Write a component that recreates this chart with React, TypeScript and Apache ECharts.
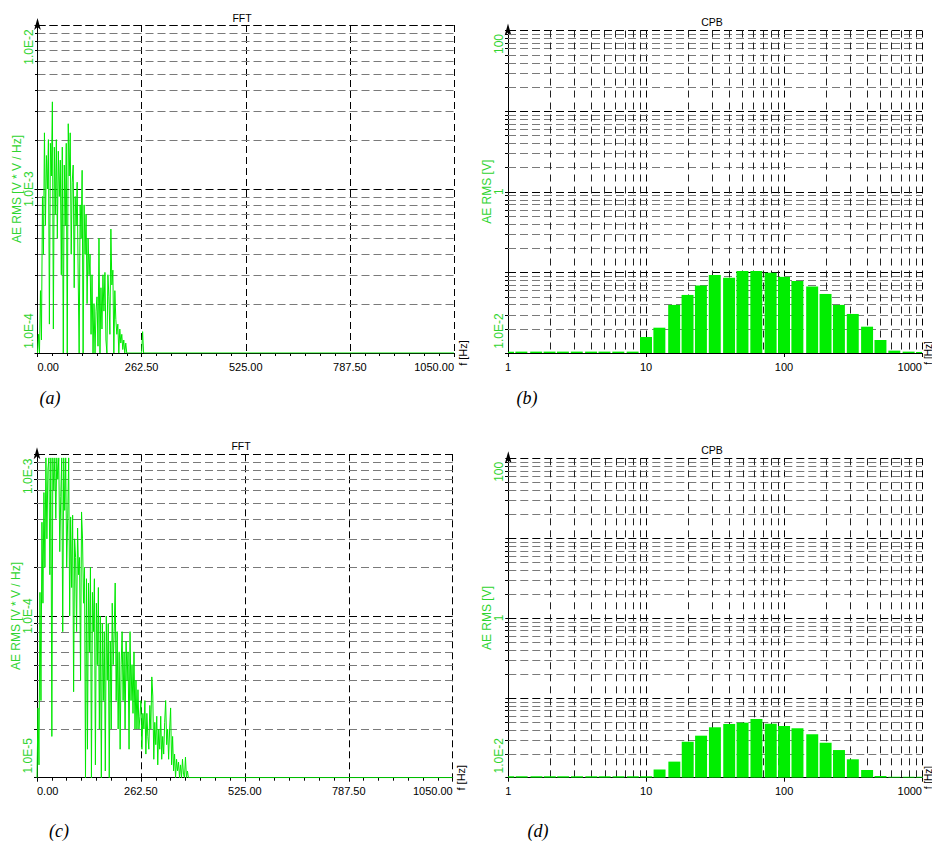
import React, { useEffect, useRef } from 'react';
import * as echarts from 'echarts';

// ---------- data ----------
const FFT_BIN_HZ = 2.5;
const FFT_X_RANGE = [0, 1050];
const FFT_X_STEP = 262.5;

// panel (a): AE RMS [V*V/Hz], values in units of 1e-4
const FFT_A_UNIT = 1e-4;
const FFT_A = [
  1.0, 1.3, 1.0, 2.4, 1.2, 9, 4, 22, 6, 16,
  10, 20, 1.5, 19, 12, 34, 1.4, 18, 7, 20,
  5, 17, 9, 15, 3, 18, 1.0, 14, 6, 19,
  1.0, 25, 12, 22, 4, 11, 14, 2.5, 9, 6,
  11, 3, 1.0, 8, 5, 13, 1.0, 8, 4, 7,
  2, 5, 3, 4, 1.3, 3, 1.0, 2, 1.0, 1.8,
  2.2, 1.1, 5, 1.0, 2.5, 1.4, 3, 1.8, 3.1, 1.2,
  1.0, 3, 2.2, 1.3, 5.7, 2.6, 3.2, 1.0, 2.4, 1.6,
  1.3, 1.5, 1.0, 1.4, 1.15, 1.3, 1.05, 1.2, 1.0, 1.15,
  1.0, 1.0, 1.0, 1.0, 1.0, 1.0, 1.0, 1.0, 1.0, 1.0,
  1.0, 1.0, 1.0, 1.0, 1.0, 1.0, 1.35, 1.0,
];
const FFT_A_TAIL = [[1050, 1e-4]];
const FFT_A_Y = [1e-4, 1e-2];

// panel (c): values in units of 1e-5
const FFT_C_UNIT = 1e-5;
const FFT_C = [
  1.0, 2.7, 1.2, 14, 3, 38, 12, 58, 20, 95,
  30, 80, 95, 18, 95, 1.8, 95, 60, 95, 40,
  95, 70, 95, 25, 55, 95, 8, 95, 45, 95,
  20, 40, 95, 10, 41, 15, 42, 3.4, 30, 23,
  8, 35, 18, 23, 4, 44, 30, 12, 20, 1.0,
  17, 1.5, 16, 6, 20, 1.0, 14, 8, 17, 1.2,
  12, 5, 15, 2, 10, 1.0, 9, 3, 8, 1.1,
  10, 4, 9, 1.0, 7, 2, 12, 5, 8, 16,
  3, 8, 2, 6, 1.5, 5, 8, 3, 6, 2,
  7, 4, 6, 1.5, 8, 3, 5, 2.5, 6, 2,
  4, 2, 3.5, 2, 2.4, 3, 1.5, 2.5, 2, 3,
  1.4, 2.5, 1.8, 1.5, 2.8, 2, 4.2, 3.2, 1.3, 2.2,
  1.6, 2.4, 1.2, 2, 1.5, 2.4, 1.3, 1.8, 1.4, 2.2,
  3.0, 1.6, 2.0, 1.3, 2.0, 2.7, 1.2, 1.8, 1.1, 1.4,
  1.0, 1.3, 1.1, 1.25, 1.0, 1.2, 1.0, 1.3, 1.05, 1.0,
  1.34, 1.0, 1.1, 1.0, 1.0,
];
const FFT_C_TAIL = [[1050, 1e-5]];
const FFT_C_Y = [1e-5, 1e-3];

// CPB 1/3-octave bands
const CPB_BANDS = [
  1, 1.25, 1.6, 2, 2.5, 3.15, 4, 5, 6.3, 8,
  10, 12.5, 16, 20, 25, 31.5, 40, 50, 63, 80,
  100, 125, 160, 200, 250, 315, 400, 500, 630, 800, 1000,
];
const CPB_B = [
  0.0104, 0.0104, 0.0104, 0.0104, 0.0104, 0.0104, 0.0104, 0.0104, 0.0104, 0.0104,
  0.0158, 0.0206, 0.0395, 0.0525, 0.0686, 0.093, 0.0855, 0.104, 0.104, 0.0986,
  0.088, 0.0784, 0.0666, 0.054, 0.0395, 0.0305, 0.0212, 0.0145, 0.0107, 0.0104, 0.0103,
];
const CPB_D = [
  0.0104, 0.0104, 0.0104, 0.0104, 0.0104, 0.0104, 0.0104, 0.0104, 0.0104, 0.0104,
  0.0104, 0.0127, 0.0159, 0.0282, 0.0336, 0.0428, 0.0471, 0.0489, 0.0543, 0.0474,
  0.0444, 0.0416, 0.035, 0.0274, 0.0222, 0.017, 0.0125, 0.0105, 0.0103, 0.0103, 0.0103,
];
const CPB_X = [1, 1000];
const CPB_Y = [0.01, 100];

const TITLES = ['FFT', 'CPB', 'FFT', 'CPB'];
const CAPTIONS = ['(a)', '(b)', '(c)', '(d)'];
const FFT_Y_NAME = 'AE RMS [V * V / Hz]';
const CPB_Y_NAME = 'AE RMS [V]';
const X_NAME = 'f [Hz]';

// ---------- layout / style ----------
const GRIDS = [
  { left: 37.5, top: 25, width: 416.5, height: 328 },
  { left: 508, top: 30.5, width: 414, height: 322.5 },
  { left: 37, top: 454.3, width: 415.7, height: 323.4 },
  { left: 508.3, top: 458.3, width: 413.7, height: 319.4 },
];
const TITLE_POS = [[242, 12], [712, 16], [241, 440], [712, 444]];
const CAPTION_POS = [[50, 398], [527, 398], [59, 831], [538, 831]];
const FONT = '"Liberation Sans", Arial, sans-serif';
const LABEL_GREEN = '#2fd42f';
const LINE_GREEN = '#00e800';
const BAR_GREEN = '#00ee00';
const BAR_HALF_RATIO = 1.105;

function logMinors(min: number, max: number) {
  const out: number[] = [];
  for (let d = min; d < max * 0.999; d *= 10) {
    for (let m = 2; m <= 9; m++) out.push(+(m * d).toPrecision(6));
  }
  return out;
}

function isPow(v: number, e: number) {
  return Math.abs(Math.log10(v) - e) < 1e-6;
}

// wraps the end labels so that they sit inside the axis span
function endWrap(text: string, v: number, range: number[]) {
  const wide = text.length > 3 ? 'W' : 'N';
  if (isPow(v, Math.log10(range[1]))) return `{hi${wide}|${text}}`;
  if (isPow(v, Math.log10(range[0]))) return `{lo${wide}|${text}}`;
  return text;
}

const fftYLabel = (range: number[]) => (v: number) =>
  endWrap(v.toExponential(1).toUpperCase(), v, range);

const cpbYLabel = (range: number[]) => (v: number) => {
  let t = '';
  if (isPow(v, 2)) t = '100';
  else if (isPow(v, 0)) t = '1';
  else if (isPow(v, -2)) t = '1.0E-2';
  return t ? endWrap(t, v, range) : '';
};

function logYAxis(gridIndex: number, range: number[], formatter: any, name: string) {
  return {
    type: 'log',
    logBase: 10,
    gridIndex,
    min: range[0],
    max: range[1],
    name,
    nameLocation: 'middle',
    nameRotate: 90,
    nameGap: 15,
    nameMoveOverlap: false,
    nameTextStyle: { color: LABEL_GREEN, fontSize: 12, fontFamily: FONT },
    axisLine: {
      show: true,
      onZero: false,
      symbol: ['none', 'arrow'],
      symbolSize: [5, 12],
      symbolOffset: [0, 7],
      lineStyle: { color: '#000', width: 1 },
    },
    axisTick: { show: true, length: 3, inside: false, lineStyle: { color: '#000' } },
    minorTick: { show: false },
    axisLabel: {
      show: true,
      rotate: 90,
      color: LABEL_GREEN,
      fontSize: 12,
      fontFamily: FONT,
      margin: 3,
      formatter,
      rich: {
        hiW: { color: LABEL_GREEN, fontSize: 12, fontFamily: FONT, padding: [0, 44, 0, 0] },
        loW: { color: LABEL_GREEN, fontSize: 12, fontFamily: FONT, padding: [0, 0, 0, 44] },
        hiN: { color: LABEL_GREEN, fontSize: 12, fontFamily: FONT, padding: [0, 27, 0, 0] },
        loN: { color: LABEL_GREEN, fontSize: 12, fontFamily: FONT, padding: [0, 0, 0, 27] },
      },
    },
    splitLine: { show: true, lineStyle: { color: '#000', width: 1, type: [8, 4] } },
  };
}

function fftXAxis(gridIndex: number) {
  return {
    type: 'value',
    gridIndex,
    min: FFT_X_RANGE[0],
    max: FFT_X_RANGE[1],
    interval: FFT_X_STEP,
    name: X_NAME,
    nameLocation: 'end',
    nameRotate: 90,
    nameGap: 3,
    nameMoveOverlap: false,
    nameTextStyle: { color: '#000', fontSize: 11, fontFamily: FONT },
    axisLine: { show: true, onZero: false, lineStyle: { color: '#000', width: 1 } },
    axisTick: { show: true, length: 4, lineStyle: { color: '#000' } },
    minorTick: { show: true, splitNumber: 7, length: 3, lineStyle: { color: '#000' } },
    axisLabel: {
      color: '#000',
      fontSize: 11,
      fontFamily: FONT,
      margin: 8,
      alignMinLabel: 'left',
      alignMaxLabel: 'right',
      formatter: (v: number) => v.toFixed(2),
    },
    splitLine: { show: true, lineStyle: { color: '#000', width: 1, type: [7, 4] } },
  };
}

function cpbXAxis(gridIndex: number) {
  return {
    type: 'log',
    logBase: 10,
    gridIndex,
    min: CPB_X[0],
    max: CPB_X[1],
    name: X_NAME,
    nameLocation: 'end',
    nameRotate: 90,
    nameGap: 1,
    nameMoveOverlap: false,
    nameTextStyle: { color: '#000', fontSize: 10, fontFamily: FONT },
    axisLine: { show: true, onZero: false, lineStyle: { color: '#000', width: 1 } },
    axisTick: { show: true, length: 4, lineStyle: { color: '#000' } },
    axisLabel: {
      color: '#000',
      fontSize: 11,
      fontFamily: FONT,
      margin: 8,
      alignMaxLabel: 'right',
      formatter: (v: number) => String(Math.round(v)),
    },
    splitLine: { show: true, lineStyle: { color: '#000', width: 1, type: [7, 5] } },
  };
}

// minor log grid lines + minor ticks, positioned by the axes
function minorHSeries(idx: number, xMin: number, yRange: number[]) {
  return {
    type: 'custom',
    xAxisIndex: idx,
    yAxisIndex: idx,
    silent: true,
    clip: false,
    z: 1,
    data: logMinors(yRange[0], yRange[1]).map((v) => [xMin, v]),
    renderItem: (params: any, api: any) => {
      const cs = params.coordSys;
      const p = api.coord([api.value(0), api.value(1)]);
      const y = Math.round(p[1]) + 0.5;
      return {
        type: 'group',
        children: [
          {
            type: 'line',
            shape: { x1: cs.x, y1: y, x2: cs.x + cs.width, y2: y },
            style: { stroke: '#7a7a7a', lineWidth: 1, lineDash: [8, 4] },
          },
          {
            type: 'line',
            shape: { x1: Math.round(cs.x) - 3, y1: y, x2: Math.round(cs.x), y2: y },
            style: { stroke: '#000', lineWidth: 1 },
          },
        ],
      };
    },
  };
}

function minorVSeries(idx: number, xRange: number[], yMin: number) {
  return {
    type: 'custom',
    xAxisIndex: idx,
    yAxisIndex: idx,
    silent: true,
    clip: false,
    z: 1,
    data: logMinors(xRange[0], xRange[1]).map((v) => [v, yMin]),
    renderItem: (params: any, api: any) => {
      const cs = params.coordSys;
      const p = api.coord([api.value(0), api.value(1)]);
      const x = Math.round(p[0]) + 0.5;
      return {
        type: 'line',
        shape: { x1: x, y1: cs.y, x2: x, y2: cs.y + cs.height },
        style: { stroke: '#222', lineWidth: 1, lineDash: [7, 5] },
      };
    },
  };
}

function fftSeries(idx: number, values: number[], unit: number, tail: number[][]) {
  return {
    type: 'line',
    xAxisIndex: idx,
    yAxisIndex: idx,
    symbol: 'none',
    showSymbol: false,
    clip: true,
    z: 3,
    lineStyle: { color: LINE_GREEN, width: 1 },
    data: values.map((v, i) => [i * FFT_BIN_HZ, v * unit]).concat(tail),
  };
}

function cpbSeries(idx: number, values: number[]) {
  return {
    type: 'custom',
    xAxisIndex: idx,
    yAxisIndex: idx,
    clip: true,
    z: 3,
    encode: { x: 0, y: 1 },
    data: CPB_BANDS.map((f, i) => [f, values[i]]),
    renderItem: (params: any, api: any) => {
      const f = api.value(0);
      const v = api.value(1);
      const p0 = api.coord([f / BAR_HALF_RATIO, v]);
      const p1 = api.coord([f * BAR_HALF_RATIO, CPB_Y[0]]);
      return {
        type: 'rect',
        shape: { x: p0[0], y: p0[1], width: p1[0] - p0[0], height: p1[1] - p0[1] },
        style: { fill: BAR_GREEN },
      };
    },
  };
}

export default function App() {
  const ref = useRef<HTMLDivElement>(null);
  useEffect(() => {
    if (!ref.current) return;
    const chart = echarts.init(ref.current, undefined, { renderer: 'svg' });
    const graphics: any[] = [];
    TITLES.forEach((t, i) => {
      graphics.push({
        type: 'text',
        x: TITLE_POS[i][0],
        y: TITLE_POS[i][1],
        silent: true,
        style: {
          text: t,
          fill: '#000',
          fontSize: 10.5,
          fontFamily: FONT,
          textAlign: 'center',
          textVerticalAlign: 'top',
        },
      });
    });
    CAPTIONS.forEach((t, i) => {
      graphics.push({
        type: 'text',
        x: CAPTION_POS[i][0],
        y: CAPTION_POS[i][1],
        silent: true,
        style: {
          text: t,
          fill: '#000',
          fontSize: 18,
          fontStyle: 'italic',
          fontFamily: '"Liberation Serif", "Times New Roman", serif',
          textAlign: 'center',
          textVerticalAlign: 'middle',
        },
      });
    });
    chart.setOption({
      animation: false,
      backgroundColor: '#fff',
      textStyle: { fontFamily: FONT },
      grid: GRIDS.map((g) => ({ ...g, containLabel: false, outerBoundsMode: 'none' })),
      xAxis: [fftXAxis(0), cpbXAxis(1), fftXAxis(2), cpbXAxis(3)],
      yAxis: [
        logYAxis(0, FFT_A_Y, fftYLabel(FFT_A_Y), FFT_Y_NAME),
        logYAxis(1, CPB_Y, cpbYLabel(CPB_Y), CPB_Y_NAME),
        logYAxis(2, FFT_C_Y, fftYLabel(FFT_C_Y), FFT_Y_NAME),
        logYAxis(3, CPB_Y, cpbYLabel(CPB_Y), CPB_Y_NAME),
      ],
      series: [
        minorHSeries(0, FFT_X_RANGE[0], FFT_A_Y),
        minorHSeries(1, CPB_X[0], CPB_Y),
        minorVSeries(1, CPB_X, CPB_Y[0]),
        minorHSeries(2, FFT_X_RANGE[0], FFT_C_Y),
        minorHSeries(3, CPB_X[0], CPB_Y),
        minorVSeries(3, CPB_X, CPB_Y[0]),
        fftSeries(0, FFT_A, FFT_A_UNIT, FFT_A_TAIL),
        cpbSeries(1, CPB_B),
        fftSeries(2, FFT_C, FFT_C_UNIT, FFT_C_TAIL),
        cpbSeries(3, CPB_D),
      ],
      graphic: graphics,
    });
    return () => chart.dispose();
  }, []);
  return (
    <div
      ref={ref}
      style={{ position: 'fixed', left: 0, top: 0, width: 932, height: 846, background: '#fff' }}
    />
  );
}
